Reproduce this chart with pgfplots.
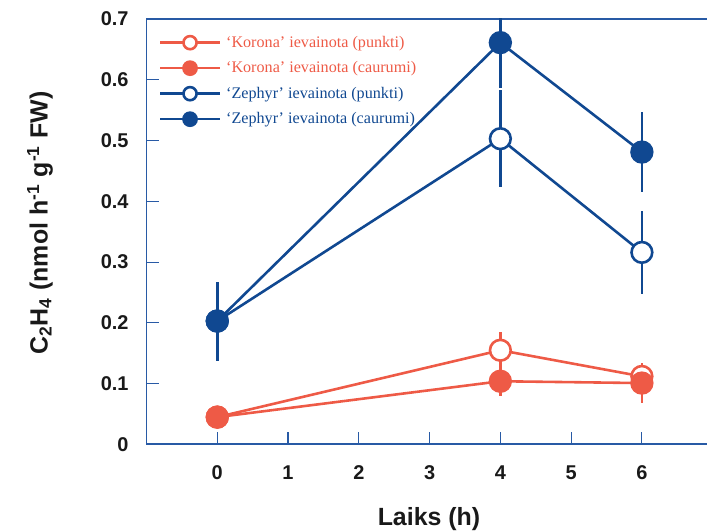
\documentclass[border=0pt]{standalone}
\usepackage{fontspec}
\setmainfont{Liberation Serif}
\setsansfont{Liberation Sans}
\usepackage{pgfplots}
\pgfplotsset{compat=1.18}
\definecolor{kred}{RGB}{238,90,70}
\definecolor{kblue}{RGB}{16,72,145}
\definecolor{kaxis}{RGB}{40,90,165}
\definecolor{ktext}{RGB}{25,25,25}
\begin{document}
\begin{tikzpicture}
\begin{axis}[
  scale only axis,
  width=281.2pt, height=213.5pt,
  xmin=-1, xmax=6.92, ymin=0, ymax=0.7,
  axis x line*=box, axis y line*=left,
  xtick pos=bottom, ytick pos=left,
  xtick={0,1,2,3,4,5,6},
  ytick={0,0.1,0.2,0.3,0.4,0.5,0.6,0.7},
  tick align=inside,
  major tick length=6.5pt,
  axis line style={draw=kaxis, line width=1pt},
  tick style={draw=kaxis, line width=0.6pt},
  /pgf/number format/assume math mode=true,
  ticklabel style={font=\sffamily\bfseries\fontsize{10}{12}\selectfont, text=ktext},
  yticklabel style={/pgf/number format/fixed, /pgf/number format/precision=1, xshift=-5.5pt},
  xticklabel style={yshift=-7pt},
  xlabel={Laiks (h)},
  ylabel={C\textsubscript{2}H\textsubscript{4} (nmol h\textsuperscript{-1} g\textsuperscript{-1} FW)},
  label style={font=\sffamily\bfseries\fontsize{12.5}{14}\selectfont, text=ktext},
  xlabel style={at={(axis description cs:0.504,-0.176)}, anchor=center},
  ylabel style={at={(axis description cs:-0.19,0.52)}, anchor=center, rotate=0},
  error bars/error bar style={line width=1.3pt},
  error bars/error mark=none,
  legend cell align=left,
  legend image code/.code={\draw[mark repeat=2,mark phase=2,#1,mark size=3.3pt,line width=1.3pt] plot coordinates {(0pt,0pt)(15pt,0pt)(30pt,0pt)};},
  legend style={draw=none, fill=none, at={(axis description cs:0,1)}, anchor=north west,
    xshift=3pt, yshift=-3.3pt, row sep=0pt,
    font=\fontsize{8.1}{10}\selectfont,
    nodes={text height=6.3pt, text depth=1.6pt, inner sep=2.45pt}},
]
% Korona punkti (open)
\addplot[color=kred, line width=1.3pt, mark=*, mark size=5.2pt, mark options={fill=white, line width=1.3pt},
  error bars/.cd, y dir=both, y explicit]
  table[x=x, y=y, y error=e] {
x y e
0 0.045 0
4 0.155 0.030
6 0.112 0.020
};
\addlegendentry{\textcolor{kred}{‘Korona’ ievainota (punkti)}}
% Korona caurumi (filled)
\addplot[color=kred, line width=1.3pt, mark=*, mark size=5.2pt, mark options={fill=kred},
  error bars/.cd, y dir=both, y explicit]
  table[x=x, y=y, y error=e] {
x y e
0 0.045 0
4 0.104 0.025
6 0.101 0.033
};
\addlegendentry{\textcolor{kred}{‘Korona’ ievainota (caurumi)}}
% Zephyr punkti (open)
\addplot[color=kblue, line width=1.3pt, mark=*, mark size=5.2pt, mark options={fill=white, line width=1.3pt},
  error bars/.cd, y dir=both, y explicit]
  table[x=x, y=y, y error=e] {
x y e
0 0.203 0
4 0.503 0.080
6 0.316 0.068
};
\addlegendentry{\textcolor{kblue}{‘Zephyr’ ievainota (punkti)}}
% Zephyr caurumi (filled)
\addplot[color=kblue, line width=1.3pt, mark=*, mark size=5.2pt, mark options={fill=kblue},
  error bars/.cd, y dir=both, y explicit]
  table[x=x, y=y, y error=e] {
x y e
0 0.203 0.065
4 0.661 0.075
6 0.481 0.066
};
\addlegendentry{\textcolor{kblue}{‘Zephyr’ ievainota (caurumi)}}
\end{axis}
\pgfresetboundingbox
\path[use as bounding box] ([xshift=-73.5pt,yshift=-43pt]current axis.south west) rectangle ([yshift=9.5pt]current axis.north east);
\end{tikzpicture}
\end{document}
